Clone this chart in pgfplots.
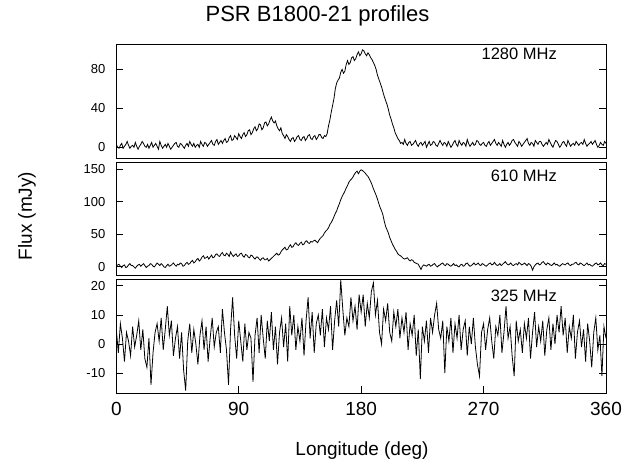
\documentclass[border=0pt]{standalone}
\usepackage{fontspec}
\setmainfont{Liberation Sans}
\usepackage{pgfplots}
\pgfplotsset{compat=1.18}

\pgfplotsset{
  panel/.style={
    scale only axis, width=489.7pt,
    xmin=0, xmax=360,
    axis line style={line width=1pt},
    tick align=inside, ytick pos=both, yticklabel pos=left,
    major tick length=7pt,
    tick style={line width=0.8pt, black},
    /pgf/number format/assume math mode=true,
    yticklabel style={font=\fontsize{13}{13}\selectfont, xshift=-7.5pt},
    xticklabel style={font=\fontsize{19}{19}\selectfont, yshift=-5.5pt},
  },
  trace/.style={black, line width=0.8pt, mark=none},
}
\tikzset{freq/.style={anchor=base east, inner sep=0pt, font=\fontsize{16.5}{16.5}\selectfont}}

\begin{document}
\begin{tikzpicture}

% 1280 MHz
\begin{axis}[panel, at={(116.3pt,305.5pt)}, anchor=south west, height=113.5pt,
  ymin=-11.5, ymax=105, ytick={0,40,80}, xtick=\empty]
\addplot[trace] coordinates {
(0,3) (1,0) (2,-1) (3,2) (4,4) (5,-1) (6,1) (7,3) (8,6) (9,2)
(10,-1) (11,1) (12,2) (13,0) (14,5) (15,1) (16,-2) (17,1) (18,3) (19,6)
(20,4) (21,1) (22,0) (23,3) (24,-1) (25,2) (26,5) (27,0) (28,2) (29,4)
(30,1) (31,-2) (32,6) (33,2) (34,-1) (35,1) (36,3) (37,0) (38,4) (39,1)
(40,-2) (41,0) (42,2) (43,4) (44,5) (45,1) (46,0) (47,4) (48,3) (49,1)
(50,-1) (51,2) (52,4) (53,1) (54,6) (55,3) (56,1) (57,4) (58,0) (59,2)
(60,3) (61,0) (62,6) (63,3) (64,1) (65,5) (66,4) (67,1) (68,3) (69,5)
(70,7) (71,3) (72,2) (73,6) (74,8) (75,3) (76,5) (77,7) (78,4) (79,7)
(80,9) (81,5) (82,6) (83,10) (84,12) (85,7) (86,8) (87,12) (88,10) (89,8)
(90,14) (91,11) (92,9) (93,13) (94,15) (95,11) (96,13) (97,17) (98,18) (99,13)
(100,15) (101,19) (102,21) (103,17) (104,19) (105,24) (106,23) (107,18) (108,20) (109,25)
(110,26) (111,22) (112,24) (113,28) (114,31) (115,27) (116,25) (117,27) (118,22) (119,19)
(120,17) (121,20) (122,14) (123,12) (124,9) (125,13) (126,11) (127,8) (128,6) (129,9)
(130,10) (131,6) (132,8) (133,11) (134,12) (135,8) (136,7) (137,10) (138,11) (139,7)
(140,9) (141,12) (142,13) (143,9) (144,8) (145,11) (146,12) (147,8) (148,10) (149,13)
(150,13) (151,10) (152,9) (153,12) (154,11) (155,14) (156,22) (157,28) (158,36) (159,43)
(160,50) (161,60) (162,66) (163,69) (164,71) (165,77) (166,80) (167,76) (168,78) (169,85)
(170,89) (171,85) (172,87) (173,92) (174,93) (175,89) (176,91) (177,95) (178,98) (179,94)
(180,96) (181,100) (182,99) (183,96) (184,94) (185,97) (186,95) (187,92) (188,90) (189,87)
(190,84) (191,80) (192,74) (193,70) (194,66) (195,62) (196,57) (197,52) (198,48) (199,44)
(200,39) (201,33) (202,29) (203,24) (204,20) (205,15) (206,12) (207,9) (208,7) (209,4)
(210,5) (211,3) (212,8) (213,4) (214,2) (215,5) (216,6) (217,2) (218,3) (219,5)
(220,7) (221,3) (222,1) (223,4) (224,5) (225,2) (226,4) (227,6) (228,0) (229,3)
(230,6) (231,2) (232,3) (233,6) (234,5) (235,2) (236,1) (237,4) (238,7) (239,4)
(240,2) (241,5) (242,4) (243,1) (244,6) (245,3) (246,0) (247,2) (248,5) (249,7)
(250,3) (251,1) (252,7) (253,4) (254,2) (255,5) (256,4) (257,1) (258,8) (259,4)
(260,1) (261,3) (262,5) (263,2) (264,3) (265,7) (266,6) (267,3) (268,2) (269,4)
(270,5) (271,2) (272,1) (273,4) (274,6) (275,2) (276,4) (277,6) (278,8) (279,4)
(280,2) (281,5) (282,3) (283,1) (284,7) (285,3) (286,0) (287,3) (288,5) (289,2)
(290,4) (291,7) (292,8) (293,5) (294,3) (295,1) (296,6) (297,4) (298,1) (299,3)
(300,5) (301,7) (302,9) (303,4) (304,2) (305,5) (306,4) (307,1) (308,7) (309,5)
(310,3) (311,6) (312,6) (313,3) (314,1) (315,3) (316,5) (317,3) (318,8) (319,5)
(320,2) (321,0) (322,4) (323,7) (324,6) (325,3) (326,0) (327,2) (328,5) (329,6)
(330,3) (331,1) (332,7) (333,4) (334,1) (335,3) (336,4) (337,2) (338,6) (339,4)
(340,2) (341,4) (342,5) (343,3) (344,8) (345,4) (346,1) (347,3) (348,4) (349,6)
(350,3) (351,5) (352,7) (353,3) (354,0) (355,2) (356,5) (357,3) (358,2) (359,6)
(360,4)
};
\end{axis}

% 610 MHz
\begin{axis}[panel, at={(116.3pt,188pt)}, anchor=south west, height=114pt,
  ymin=-14, ymax=161, ytick={0,50,100,150}, xtick=\empty]
\addplot[trace] coordinates {
(0,1) (1,3) (2,4) (3,1) (4,-1) (5,2) (6,3) (7,-1) (8,0) (9,3)
(10,5) (11,2) (12,2) (13,0) (14,-2) (15,1) (16,3) (17,4) (18,1) (19,3)
(20,5) (21,2) (22,-1) (23,1) (24,2) (25,5) (26,4) (27,1) (28,0) (29,3)
(30,6) (31,4) (32,2) (33,5) (34,3) (35,0) (36,-1) (37,2) (38,4) (39,1)
(40,2) (41,4) (42,6) (43,3) (44,1) (45,4) (46,3) (47,6) (48,5) (49,1)
(50,2) (51,5) (52,7) (53,4) (54,5) (55,8) (56,10) (57,6) (58,8) (59,11)
(60,13) (61,9) (62,11) (63,15) (64,17) (65,13) (66,14) (67,16) (68,12) (69,15)
(70,18) (71,14) (72,15) (73,19) (74,20) (75,17) (76,16) (77,20) (78,22) (79,18)
(80,17) (81,21) (82,19) (83,16) (84,23) (85,19) (86,16) (87,18) (88,20) (89,16)
(90,17) (91,20) (92,21) (93,17) (94,15) (95,19) (96,18) (97,15) (98,14) (99,18)
(100,17) (101,14) (102,12) (103,15) (104,15) (105,12) (106,10) (107,13) (108,14) (109,11)
(110,11) (111,13) (112,9) (113,11) (114,13) (115,15) (116,17) (117,19) (118,21) (119,18)
(120,19) (121,23) (122,26) (123,28) (124,30) (125,26) (126,27) (127,31) (128,34) (129,30)
(130,31) (131,35) (132,37) (133,34) (134,33) (135,36) (136,38) (137,34) (138,35) (139,39)
(140,40) (141,37) (142,36) (143,39) (144,38) (145,40) (146,41) (147,39) (148,37) (149,41)
(150,44) (151,46) (152,48) (153,52) (154,55) (155,57) (156,60) (157,65) (158,68) (159,72)
(160,77) (161,82) (162,86) (163,92) (164,97) (165,103) (166,108) (167,112) (168,116) (169,121)
(170,125) (171,130) (172,133) (173,135) (174,138) (175,142) (176,145) (177,147) (178,143) (179,147)
(180,149) (181,148) (182,146) (183,144) (184,141) (185,139) (186,135) (187,131) (188,126) (189,120)
(190,115) (191,110) (192,104) (193,97) (194,91) (195,86) (196,80) (197,70) (198,62) (199,57)
(200,52) (201,45) (202,40) (203,35) (204,31) (205,27) (206,24) (207,20) (208,18) (209,17)
(210,15) (211,13) (212,12) (213,13) (214,14) (215,11) (216,9) (217,11) (218,10) (219,7)
(220,6) (221,5) (222,4) (223,0) (224,-4) (225,1) (226,3) (227,2) (228,1) (229,3)
(230,4) (231,1) (232,2) (233,4) (234,5) (235,2) (236,0) (237,2) (238,3) (239,5)
(240,6) (241,3) (242,2) (243,5) (244,4) (245,2) (246,1) (247,3) (248,5) (249,2)
(250,3) (251,1) (252,0) (253,3) (254,4) (255,1) (256,2) (257,5) (258,6) (259,3)
(260,1) (261,2) (262,4) (263,6) (264,3) (265,4) (266,6) (267,3) (268,2) (269,5)
(270,4) (271,2) (272,1) (273,3) (274,5) (275,6) (276,3) (277,4) (278,7) (279,4)
(280,2) (281,3) (282,5) (283,2) (284,4) (285,6) (286,8) (287,5) (288,3) (289,4)
(290,6) (291,3) (292,2) (293,4) (294,5) (295,3) (296,7) (297,5) (298,3) (299,4)
(300,6) (301,4) (302,2) (303,5) (304,4) (305,1) (306,-5) (307,0) (308,3) (309,5)
(310,6) (311,3) (312,4) (313,7) (314,8) (315,5) (316,3) (317,6) (318,5) (319,3)
(320,2) (321,4) (322,6) (323,3) (324,4) (325,2) (326,1) (327,3) (328,5) (329,4)
(330,3) (331,5) (332,6) (333,3) (334,2) (335,4) (336,4) (337,6) (338,7) (339,4)
(340,3) (341,6) (342,5) (343,3) (344,2) (345,4) (346,6) (347,3) (348,4) (349,2)
(350,1) (351,3) (352,5) (353,6) (354,3) (355,4) (356,6) (357,3) (358,2) (359,5)
(360,4)
};
\end{axis}

% 325 MHz
\begin{axis}[panel, at={(116.3pt,71pt)}, anchor=south west, height=113pt,
  ymin=-16.8, ymax=22, ytick={-10,0,10,20},
  xtick={0,90,180,270,360}, xtick pos=lower]
\addplot[trace] coordinates {
(0,5) (1.5,-3) (3,7) (4.5,2) (6,-6) (7.5,4) (9,1) (10.5,-4) (12,6) (13.5,-1)
(15,3) (16.5,8) (18,-2) (19.5,5) (21,-5) (22.5,-8) (24,2) (25.5,-14) (27,-3) (28.5,4)
(30,7) (31.5,1) (33,9) (34.5,-2) (36,5) (37.5,13) (39,3) (40.5,8) (42,-4) (43.5,2)
(45,6) (46.5,-5) (48,4) (49.5,-9) (51,-16) (52.5,1) (54,7) (55.5,-3) (57,5) (58.5,0)
(60,-7) (61.5,3) (63,8) (64.5,-2) (66,6) (67.5,-6) (69,2) (70.5,9) (72,-1) (73.5,4)
(75,6) (76.5,-3) (78,12) (79.5,4) (81,-2) (82.5,-14) (84,5) (85.5,16) (87,3) (88.5,-5)
(90,8) (91.5,1) (93,-6) (94.5,7) (96,-2) (97.5,4) (99,2) (100.5,-13) (102,3) (103.5,9)
(105,-3) (106.5,10) (108,2) (109.5,-5) (111,8) (112.5,1) (114,11) (115.5,-2) (117,6) (118.5,-7)
(120,4) (121.5,9) (123,-1) (124.5,7) (126,-6) (127.5,13) (129,3) (130.5,10) (132,-2) (133.5,6)
(135,1) (136.5,9) (138,-4) (139.5,8) (141,16) (142.5,2) (144,11) (145.5,-3) (147,7) (148.5,10)
(150,3) (151.5,12) (153,-1) (154.5,9) (156,5) (157.5,13) (159,-2) (160.5,8) (162,15) (163.5,6)
(165,22) (166.5,12) (168,3) (169.5,9) (171,6) (172.5,16) (174,8) (175.5,13) (177,5) (178.5,17)
(180,11) (181.5,17) (183,6) (184.5,14) (186,9) (187.5,18) (189,21) (190.5,10) (192,15) (193.5,4)
(195,0) (196.5,12) (198,8) (199.5,14) (201,4) (202.5,1) (204,11) (205.5,6) (207,12) (208.5,2)
(210,9) (211.5,4) (213,11) (214.5,-2) (216,7) (217.5,3) (219,10) (220.5,-4) (222,5) (223.5,-12)
(225,6) (226.5,1) (228,8) (229.5,-3) (231,9) (232.5,4) (234,10) (235.5,14) (237,5) (238.5,2)
(240,8) (241.5,-10) (243,6) (244.5,1) (246,9) (247.5,-3) (249,7) (250.5,2) (252,10) (253.5,-2)
(255,5) (256.5,8) (258,-4) (259.5,6) (261,0) (262.5,9) (264,-1) (265.5,-7) (267,-11) (268.5,4)
(270,7) (271.5,-2) (273,5) (274.5,9) (276,1) (277.5,-5) (279,6) (280.5,3) (282,10) (283.5,-3)
(285,4) (286.5,13) (288,2) (289.5,6) (291,-4) (292.5,-11) (294,8) (295.5,1) (297,5) (298.5,-3)
(300,7) (301.5,2) (303,9) (304.5,-5) (306,4) (307.5,11) (309,-1) (310.5,6) (312,1) (313.5,8)
(315,-4) (316.5,5) (318,9) (319.5,-2) (321,7) (322.5,0) (324,10) (325.5,4) (327,13) (328.5,3)
(330,9) (331.5,-3) (333,6) (334.5,2) (336,10) (337.5,-5) (339,4) (340.5,8) (342,-1) (343.5,5)
(345,-6) (346.5,7) (348,1) (349.5,-8) (351,4) (352.5,9) (354,-2) (355.5,3) (357,-11) (358.5,6)
(360,2)
};
\end{axis}

\node[freq] at (557pt,404pt) {1280 MHz};
\node[freq] at (557pt,282.3pt) {610 MHz};
\node[freq] at (557pt,162.3pt) {325 MHz};

\node[anchor=base, font=\fontsize{22}{22}\selectfont] at (317.5pt,442pt) {PSR B1800-21 profiles};
\node[rotate=90, font=\fontsize{19}{19}\selectfont] at (27pt,248pt) {Flux (mJy)};
\node[font=\fontsize{19}{19}\selectfont] at (362pt,13pt) {Longitude (deg)};

\pgfresetboundingbox
\path[use as bounding box] (0,0) rectangle (635pt,464pt);
\end{tikzpicture}
\end{document}
